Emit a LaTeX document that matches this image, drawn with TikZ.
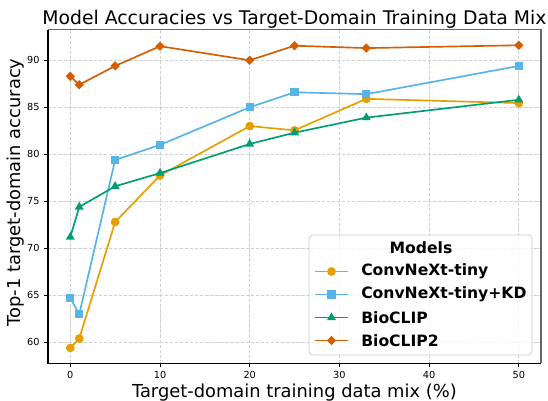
\documentclass[tikz,border=0pt]{standalone}
\usepackage{fontspec}
\setmainfont{DejaVu Sans}
\usetikzlibrary{shapes.geometric}
\definecolor{cOr}{HTML}{E69F00}
\definecolor{cSky}{HTML}{56B4E9}
\definecolor{cGr}{HTML}{009E73}
\definecolor{cVer}{HTML}{D55E00}
\definecolor{gridc}{HTML}{D0D0D0}
\definecolor{legc}{HTML}{CCCCCC}
\tikzset{
  gridline/.style={gridc, line width=0.6pt, dash pattern=on 2.6pt off 1.2pt},
  series/.style={line width=1.25pt, line join=round},
  mcirc/.style={circle, draw=none, inner sep=0pt, minimum size=6.6pt},
  msq/.style={rectangle, draw=none, inner sep=0pt, minimum size=6.2pt},
  mtri/.style={regular polygon, regular polygon sides=3, draw=none, inner sep=0pt, minimum size=7.8pt},
  mdia/.style={diamond, draw=none, inner sep=0pt, minimum width=7.2pt, minimum height=7.2pt},
  ticklab/.style={font=\fontsize{7.3}{9}\selectfont, inner sep=0pt},
  leglab/.style={font=\fontsize{11.7}{14}\selectfont\bfseries, anchor=west, inner sep=0pt},
}
\begin{document}
\begin{tikzpicture}[x=0.75pt,y=-0.75pt]
\useasboundingbox (0,0) rectangle (548,400);
\fill[white] (0,0) rectangle (548,400);
% title
\node[anchor=base, inner sep=0pt, font=\fontsize{14.1}{17}\selectfont] (title) at (294.4,24) {Model Accuracies vs Target-Domain Training Data Mix};
% axis labels
\node[anchor=base, inner sep=0pt, font=\fontsize{13.4}{16}\selectfont] (xlab) at (294.4,397) {Target-domain training data mix (\%)};
\node[anchor=base, rotate=90, inner sep=0pt, font=\fontsize{13.4}{16}\selectfont] (ylab) at (20.5,192.4) {Top-1 target-domain accuracy};
% data scope
\begin{scope}[shift={(70.3,906.3)}, x=6.7275pt, y=7.05pt]
  \foreach \v in {0,10,...,50} {
    \draw[gridline] (\v,57.77) -- (\v,93.28);
    \draw[line width=0.6pt] (\v,57.77) -- ++(0,-0.37);
    \node[ticklab, anchor=north] (xt\v) at (\v,56.9) {\v};
  }
  \foreach \v in {60,65,...,90} {
    \draw[gridline] (-2.49,\v) -- (52.44,\v);
    \draw[line width=0.6pt] (-2.49,\v) -- ++(-0.39,0);
    \node[ticklab, anchor=east] (yt\v) at (-3.4,\v) {\v};
  }
  % series A: ConvNeXt-tiny
  \path (0,59.4) coordinate (a0) (1,60.4) coordinate (a1) (5,72.8) coordinate (a2) (10,77.75) coordinate (a3)
        (20,83.0) coordinate (a4) (25,82.55) coordinate (a5) (33,85.9) coordinate (a6) (50,85.45) coordinate (a7);
  \draw[cOr, series] (a0) -- (a1) -- (a2) -- (a3) -- (a4) -- (a5) -- (a6) -- (a7);
  \foreach \i in {0,...,7} \node[mcirc, fill=cOr] (ma\i) at (a\i) {};
  % series B: ConvNeXt-tiny+KD
  \path (0,64.7) coordinate (b0) (1,63.0) coordinate (b1) (5,79.4) coordinate (b2) (10,81.0) coordinate (b3)
        (20,85.0) coordinate (b4) (25,86.6) coordinate (b5) (33,86.4) coordinate (b6) (50,89.4) coordinate (b7);
  \draw[cSky, series] (b0) -- (b1) -- (b2) -- (b3) -- (b4) -- (b5) -- (b6) -- (b7);
  \foreach \i in {0,...,7} \node[msq, fill=cSky] (mb\i) at (b\i) {};
  % series C: BioCLIP
  \path (0,71.2) coordinate (c0) (1,74.4) coordinate (c1) (5,76.6) coordinate (c2) (10,78.0) coordinate (c3)
        (20,81.1) coordinate (c4) (25,82.3) coordinate (c5) (33,83.9) coordinate (c6) (50,85.8) coordinate (c7);
  \draw[cGr, series] (c0) -- (c1) -- (c2) -- (c3) -- (c4) -- (c5) -- (c6) -- (c7);
  \foreach \i in {0,...,7} \node[mtri, fill=cGr] (mc\i) at (c\i) {};
  % series D: BioCLIP2
  \path (0,88.3) coordinate (d0) (1,87.4) coordinate (d1) (5,89.4) coordinate (d2) (10,91.5) coordinate (d3)
        (20,90.0) coordinate (d4) (25,91.55) coordinate (d5) (33,91.3) coordinate (d6) (50,91.6) coordinate (d7);
  \draw[cVer, series] (d0) -- (d1) -- (d2) -- (d3) -- (d4) -- (d5) -- (d6) -- (d7);
  \foreach \i in {0,...,7} \node[mdia, fill=cVer] (md\i) at (d\i) {};
\end{scope}
% spines
\draw[black, line width=0.8pt] (48,29.5) -- (48,363.3) -- (540.7,363.3);
\draw[black!60, line width=1.2pt] (48,29.5) -- (540.7,29.5) -- (540.7,363.3);
% legend
\draw[legc, line width=0.6pt, fill=white, fill opacity=0.8, rounded corners=3pt] (309,235) rectangle (532,355);
\node[anchor=center, inner sep=0pt, font=\fontsize{11.7}{14}\selectfont\bfseries] (legtitle) at (421,248) {Models};
\coordinate (la0) at (315,271.5); \coordinate (la1) at (348,271.5);
\coordinate (lb0) at (315,294.5); \coordinate (lb1) at (348,294.5);
\coordinate (lc0) at (315,317.5); \coordinate (lc1) at (348,317.5);
\coordinate (ld0) at (315,340.5); \coordinate (ld1) at (348,340.5);
\draw[cOr, series] (la0) -- (la1);
\node[mcirc, fill=cOr] (lma) at (331.5,271.5) {};
\draw[cSky, series] (lb0) -- (lb1);
\node[msq, fill=cSky] (lmb) at (331.5,294.5) {};
\draw[cGr, series] (lc0) -- (lc1);
\node[mtri, fill=cGr] (lmc) at (331.5,317.5) {};
\draw[cVer, series] (ld0) -- (ld1);
\node[mdia, fill=cVer] (lmd) at (331.5,340.5) {};
\node[leglab] (lta) at (361,271.5) {ConvNeXt-tiny};
\node[leglab] (ltb) at (361,294.5) {ConvNeXt-tiny+KD};
\node[leglab] (ltc) at (361,317.5) {BioCLIP};
\node[leglab] (ltd) at (361,340.5) {BioCLIP2};
\end{tikzpicture}
\end{document}
